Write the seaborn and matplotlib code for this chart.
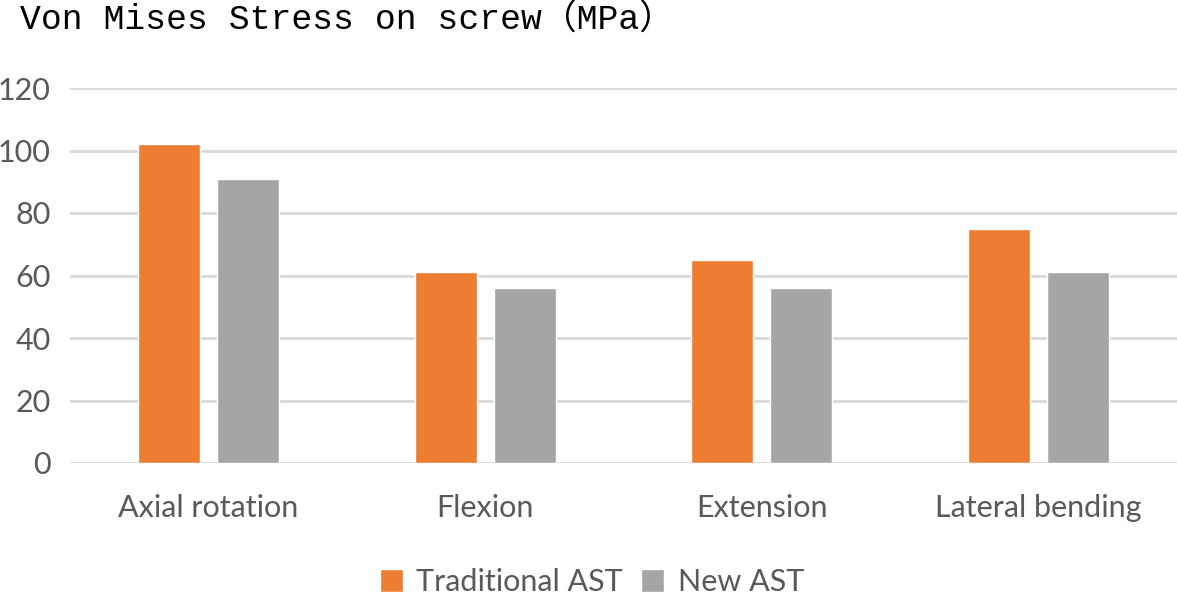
import pandas as pd
import matplotlib.pyplot as plt
import seaborn as sns

categories = ['Axial rotation', 'Flexion', 'Extension', 'Lateral bending']
traditional_ast = [102, 61, 65, 75]
new_ast = [91, 56, 56, 61]
series_names = ['Traditional AST', 'New AST']
y_ticks = [0, 20, 40, 60, 80, 100, 120]

df = pd.DataFrame({
    'category': categories * 2,
    'series': [series_names[0]] * len(categories) + [series_names[1]] * len(categories),
    'stress': traditional_ast + new_ast,
})

sns.set_style('white')
plt.rcParams['font.family'] = ['Lato', 'DejaVu Sans']

fig = plt.figure(figsize=(11.77, 5.97), dpi=100)
ax = fig.add_axes([70 / 1177, 1 - 463 / 597, 1107 / 1177, 375 / 597])

sns.barplot(data=df, x='category', y='stress', hue='series',
            palette=['#ED7D31', '#A5A5A5'], width=0.57, gap=0.215,
            ax=ax, zorder=3, saturation=1)

ax.set_xlim(-0.5, 3.5)
ax.set_ylim(0, 120)
ax.set_yticks(y_ticks)
ax.yaxis.grid(True, color='#D9D9D9', linewidth=2, zorder=0)
ax.set_axisbelow(True)
for s in ax.spines.values():
    s.set_visible(False)
ax.set_xlabel('')
ax.set_ylabel('')
ax.tick_params(axis='both', length=0, colors='#595959', labelsize=22)
ax.tick_params(axis='x', pad=22)
ax.tick_params(axis='y', pad=14)

leg = ax.legend(loc='center', bbox_to_anchor=(0.503, 1 - 582 / 597), bbox_transform=fig.transFigure,
                ncol=2, frameon=False, fontsize=22, handlelength=0.75, handleheight=0.75,
                handletextpad=0.45, columnspacing=0.6)
for t in leg.get_texts():
    t.set_color('#595959')

fig.text(20 / 1177, 1 - 20 / 597, 'Von Mises Stress on screw（MPa）',
         family=['Liberation Mono', 'Noto Sans CJK SC'], fontsize=25,
         va='center', ha='left', color='black')

fig.savefig('out.png', dpi=100)
